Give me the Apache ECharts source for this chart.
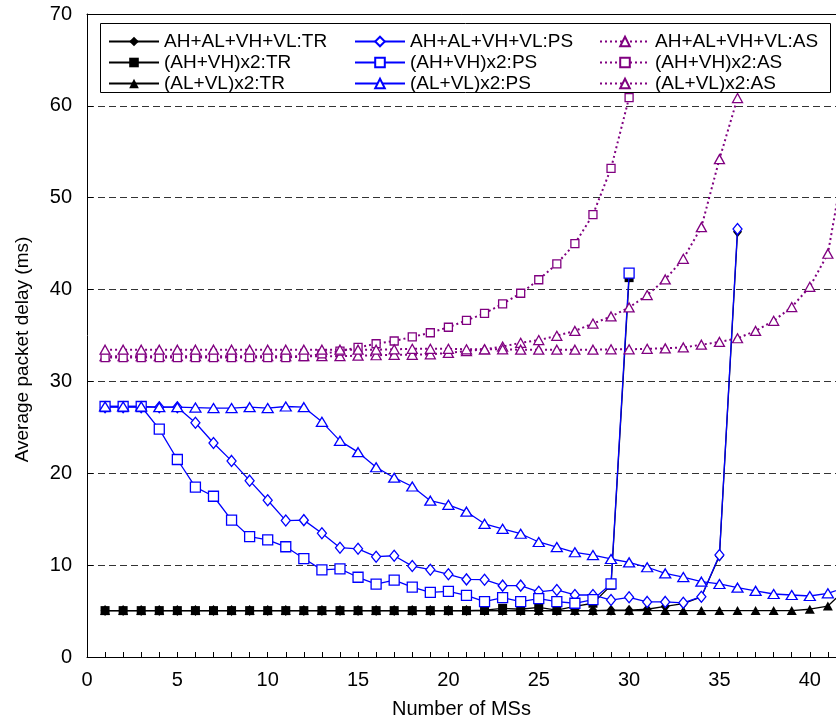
<!DOCTYPE html>
<html><head><meta charset="utf-8">
<script src="https://cdn.jsdelivr.net/npm/echarts@6/dist/echarts.min.js"></script>
<style>html,body{margin:0;padding:0;background:#fff}#c{width:836px;height:725px}</style>
</head><body><div id="c"></div>
<script>
const msCount = [1,2,3,4,5,6,7,8,9,10,11,12,13,14,15,16,17,18,19,20,21,22,23,24,25,26,27,28,29,30,31,32,33,34,35,36,37,38,39,40,41,42];
const xTickLabels = [0,5,10,15,20,25,30,35,40];
const xMinorTicks = [1,2,3,4,5,6,7,8,9,10,11,12,13,14,15,16,17,18,19,20,21,22,23,24,25,26,27,28,29,30,31,32,33,34,35,36,37,38,39,40,41];

const names = ['AH+AL+VH+VL:TR','(AH+VH)x2:TR','(AL+VL)x2:TR','AH+AL+VH+VL:PS','(AH+VH)x2:PS','(AL+VL)x2:PS','AH+AL+VH+VL:AS','(AH+VH)x2:AS','(AL+VL)x2:AS'];

const trAll = [5.05,5.05,5.05,5.05,5.05,5.05,5.05,5.05,5.05,5.05,5.05,5.05,5.05,5.05,5.05,5.05,5.05,5.05,5.05,5.05,5.05,5.05,5.05,5.05,5.05,5.05,5.05,5.05,5.1,5.1,5.2,5.5,5.8,6.55,11.0,46.3];
const trAHVH = [5.05,5.05,5.05,5.05,5.05,5.05,5.05,5.05,5.05,5.05,5.05,5.05,5.05,5.05,5.05,5.05,5.05,5.05,5.05,5.05,5.05,5.1,5.3,5.2,5.4,5.1,5.5,5.85,7.8,41.3];
const trALVL = [5.05,5.05,5.05,5.05,5.05,5.05,5.05,5.05,5.05,5.05,5.05,5.05,5.05,5.05,5.05,5.05,5.05,5.05,5.05,5.05,5.05,5.05,5.05,5.05,5.05,5.05,5.05,5.05,5.05,5.05,5.05,5.05,5.05,5.05,5.05,5.05,5.05,5.05,5.05,5.2,5.55,7.4];

const psAll = [27.2,27.2,27.2,27.2,27.2,25.5,23.3,21.35,19.2,17.07,14.85,14.9,13.47,11.9,11.78,10.92,11.02,9.9,9.5,9.0,8.45,8.42,7.77,7.77,7.1,7.3,6.75,6.75,6.2,6.5,6.0,6.0,5.9,6.57,11.1,46.6];
const psAHVH = [27.27,27.27,27.27,24.8,21.5,18.5,17.5,14.9,13.1,12.75,12.0,10.72,9.48,9.6,8.68,7.93,8.37,7.6,7.03,7.15,6.7,6.03,6.46,6.03,6.35,6.03,5.85,6.25,7.95,41.8];
const psALVL = [27.27,27.27,27.27,27.2,27.2,27.15,27.1,27.1,27.2,27.1,27.27,27.2,25.6,23.53,22.3,20.66,19.52,18.56,17.02,16.57,15.82,14.5,13.95,13.42,12.52,11.97,11.4,11.1,10.67,10.3,9.77,9.1,8.7,8.2,7.95,7.55,7.2,6.86,6.75,6.64,6.93,7.6];

const asAll = [32.75,32.75,32.75,32.75,32.75,32.75,32.75,32.75,32.75,32.75,32.75,32.75,32.75,32.75,32.8,32.85,32.9,32.9,32.95,33.1,33.3,33.5,33.8,34.2,34.5,34.97,35.5,36.3,37.07,38.05,39.4,41.1,43.35,46.8,54.2,60.85];
const asAHVH = [32.6,32.6,32.6,32.6,32.6,32.6,32.6,32.6,32.6,32.6,32.6,32.7,33.0,33.3,33.7,34.1,34.4,34.85,35.3,35.9,36.65,37.4,38.45,39.6,41.07,42.8,45.0,48.15,53.2,60.9];
const asALVL = [33.45,33.45,33.45,33.45,33.45,33.45,33.45,33.45,33.45,33.45,33.45,33.45,33.45,33.45,33.45,33.45,33.5,33.55,33.55,33.55,33.5,33.5,33.5,33.45,33.45,33.45,33.45,33.45,33.5,33.5,33.55,33.6,33.7,34.0,34.3,34.7,35.5,36.6,38.1,40.3,43.9,55.0];

function pairs(vals){ return vals.map((v,i)=>[msCount[i], v]); }

const FONT = 'Liberation Sans, Arial, sans-serif';
const BLACK = '#000000', BLUE = '#0000ff', PURPLE = '#800080';

function tr(name, vals, sym, size){
  return {name, type:'line', data:pairs(vals), symbol:sym, symbolSize:size, showAllSymbol:true,
    lineStyle:{color:BLACK,width:1.3}, itemStyle:{color:BLACK,borderColor:BLACK,borderWidth:0}, z:2};
}
function ps(name, vals, sym, size){
  return {name, type:'line', data:pairs(vals), symbol:sym, symbolSize:size, showAllSymbol:true,
    lineStyle:{color:BLUE,width:1.3}, itemStyle:{color:'#ffffff',borderColor:BLUE,borderWidth:1.3}, z:3};
}
function as(name, vals, sym, size){
  return {name, type:'line', data:pairs(vals), symbol:sym, symbolSize:size, showAllSymbol:true,
    lineStyle:{color:PURPLE,width:2,type:[2,3]}, itemStyle:{color:'#ffffff',borderColor:PURPLE,borderWidth:1.3}, z:4};
}

const series = [
  tr(names[0], trAll, 'diamond', [9,11]),
  tr(names[1], trAHVH, 'rect', 9),
  tr(names[2], trALVL, 'triangle', [10,9]),
  ps(names[3], psAll, 'diamond', [9,11]),
  ps(names[4], psAHVH, 'rect', 10),
  ps(names[5], psALVL, 'triangle', [11,9]),
  as(names[6], asAll, 'triangle', [10,9]),
  as(names[7], asAHVH, 'rect', 8),
  as(names[8], asALVL, 'triangle', [10,9])
];

function legend(data, left){
  return {data, orient:'vertical', left, top:26, itemWidth:50, itemHeight:12, itemGap:0,
    textStyle:{fontFamily:FONT, fontSize:19, color:'#000', lineHeight:21}, z:6};
}

const chart = echarts.init(document.getElementById('c'), null, {renderer:'canvas'});
chart.setOption({
  animation:false,
  backgroundColor:'#ffffff',
  textStyle:{fontFamily:FONT},
  grid:{left:87, right:0, top:14, bottom:68},
  graphic:[{type:'rect', shape:{x:100.5,y:23.5,width:730,height:69}, style:{fill:'#fff',stroke:'#000',lineWidth:1}, z:5}],
  legend:[legend(names.slice(0,3),103), legend(names.slice(3,6),349), legend(names.slice(6,9),594)],
  xAxis:[{
    type:'value', min:0, max:41.45, position:'bottom',
    axisLine:{show:true,lineStyle:{color:'#000',width:1}},
    axisTick:{show:true, inside:true, length:5, customValues:xMinorTicks, lineStyle:{color:'#000'}},
    axisLabel:{customValues:xTickLabels, fontSize:20, color:'#000', margin:13, fontFamily:FONT},
    splitLine:{show:false},
    name:'Number of MSs', nameLocation:'middle', nameGap:42,
    nameTextStyle:{fontSize:20, color:'#000', fontFamily:FONT}
  },{
    type:'value', min:0, max:41.45, position:'top',
    axisLine:{show:true,lineStyle:{color:'#000',width:1}},
    axisTick:{show:false}, axisLabel:{show:false}, splitLine:{show:false}
  }],
  yAxis:{
    type:'value', min:0, max:70, interval:10,
    axisLine:{show:true,lineStyle:{color:'#000',width:1}},
    axisTick:{show:true, inside:true, length:6, lineStyle:{color:'#000'}},
    axisLabel:{fontSize:20, color:'#000', margin:15, fontFamily:FONT},
    splitLine:{show:true, lineStyle:{color:'#333', width:1, type:[7,4]}},
    name:'Average packet delay (ms)', nameLocation:'middle', nameGap:55,
    nameTextStyle:{fontSize:19, color:'#000', fontFamily:FONT, padding:[0,28,0,0]}
  },
  series
});
</script></body></html>
